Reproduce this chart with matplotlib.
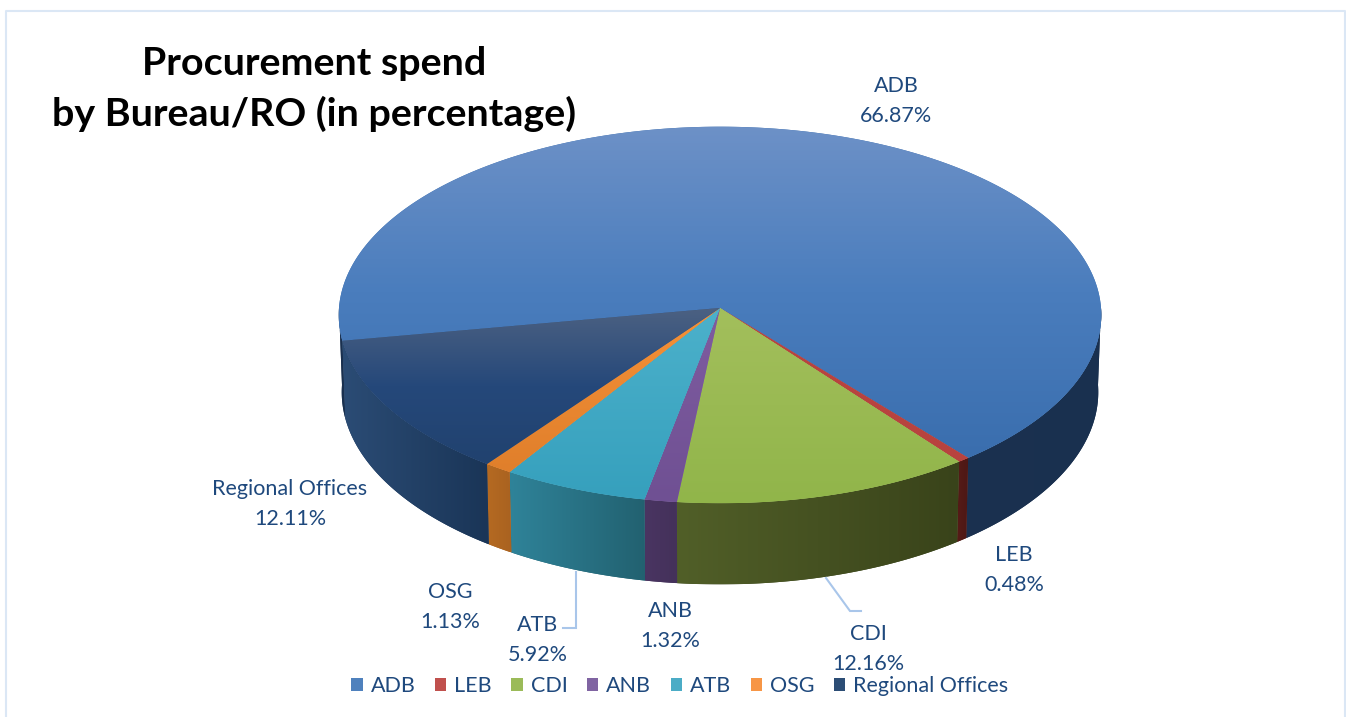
"""3D style pie chart of procurement spend by bureau."""

import matplotlib
matplotlib.use("Agg")
import matplotlib.pyplot as plt
import numpy as np
from matplotlib.colors import LinearSegmentedColormap
from matplotlib.patches import Patch, Polygon

categories = ["ADB", "LEB", "CDI", "ANB", "ATB", "OSG", "Regional Offices"]
shares = [66.87, 0.48, 12.16, 1.32, 5.92, 1.13, 12.11]
legend_colors = ["#4f81bd", "#c0504d", "#9bbb59", "#8064a2", "#4bacc6", "#f79646", "#2c4d75"]

# vertical gradient of each top face, then horizontal gradient of each rim
top_shades = [
    ["#6d91c7", "#4a7dbd", "#3a6eae"],
    ["#b8433f", "#b8433f"],
    ["#a3bf5c", "#91b54a"],
    ["#7f5ca0", "#6f5093"],
    ["#4cb1cb", "#36a0bd"],
    ["#f59138", "#e07f2b"],
    ["#4c6182", "#25487a", "#21426f"],
]
rim_shades = [
    ["#1b3150", "#19304f"],
    ["#561b17", "#4d1815"],
    ["#515f28", "#39431a"],
    ["#4a3562", "#44315a"],
    ["#2f8399", "#226170"],
    ["#b56a22", "#a96220"],
    ["#2b4c75", "#1a3557"],
]
label_lines = ["ADB\n66.87%", "LEB\n0.48%", "CDI\n12.16%", "ANB\n1.32%",
               "ATB\n5.92%", "OSG\n1.13%", "Regional Offices\n12.11%"]
label_pos = [(896, 101), (1014, 570), (868, 649), (670, 626), (538, 640), (450, 607), (290, 504)]

START_ANGLE = 190.0
CX, CY = 720.0, 308.0
RX, RY = 381.0, 188.0
RX_LOW, RY_LOW, DROP = 378.0, 192.0, 77.0
PERSP = 0.037
TEXT_COLOR = "#1f497d"
LEADER_COLOR = "#a9c6ea"
FONT = "Lato"
LABEL_SIZE = 15.5


def top_xy(angle):
    """Screen position on the top rim, angle in degrees, 270 facing the viewer."""
    t = np.radians(angle)
    front = -np.sin(t)
    scale = 1.0 / (1.0 - PERSP * front)
    return CX + RX * np.cos(t) * scale, CY + RY * front * scale


def low_xy(angle):
    t = np.radians(angle)
    front = -np.sin(t)
    scale = 1.0 / (1.0 - PERSP * front)
    return CX + RX_LOW * np.cos(t) * scale, CY + DROP + RY_LOW * front * scale


def shaded(ax, xy, colors, horizontal=False):
    """Fill a polygon with a linear gradient running across its bounding box."""
    xy = np.asarray(xy)
    patch = Polygon(xy, closed=True, facecolor=colors[-1], edgecolor="none")
    ax.add_patch(patch)
    cmap = LinearSegmentedColormap.from_list("shade", colors)
    ramp = np.linspace(0, 1, 256)
    ramp = ramp[None, :] if horizontal else ramp[:, None]
    box = (xy[:, 0].min(), xy[:, 0].max(), xy[:, 1].max(), xy[:, 1].min())
    im = ax.imshow(ramp, cmap=cmap, extent=box, origin="upper", aspect="auto",
                   interpolation="bilinear", zorder=patch.get_zorder())
    im.set_clip_path(patch)


def rim(ax, arc, colors):
    tx, ty = top_xy(arc)
    lx, ly = low_xy(arc)
    outline = np.column_stack((np.r_[tx, lx[::-1]], np.r_[ty, ly[::-1]]))
    shaded(ax, outline, colors, horizontal=True)


fig = plt.figure(figsize=(13.46, 7.17), dpi=100, facecolor="white")
ax = fig.add_axes([0, 0, 1, 1])

# clockwise slice limits, taken from the shares
sweep = np.cumsum([0.0] + shares) / sum(shares) * 360.0
limits = START_ANGLE - sweep

# ADB wraps round the back, so its rim shows on the far left and on the right
rim(ax, np.linspace(limits[0], 180.0, 40), rim_shades[0])
rim(ax, np.linspace(0.0, limits[1], 300), rim_shades[0])
for i in range(1, len(shares)):
    rim(ax, np.linspace(limits[i], limits[i + 1], 300), rim_shades[i])

for i in range(len(shares)):
    arc = np.linspace(limits[i], limits[i + 1], 600)
    tx, ty = top_xy(arc)
    outline = np.column_stack((np.r_[CX, tx], np.r_[CY, ty]))
    shaded(ax, outline, top_shades[i])

for text, (x, y) in zip(label_lines, label_pos):
    ax.text(x, y, text, ha="center", va="center", color=TEXT_COLOR, fontsize=LABEL_SIZE,
            family=FONT, linespacing=1.62)

# leader lines for the two labels that sit away from their slices
ax.plot([576, 576, 563], [572, 628, 628], color=LEADER_COLOR, lw=1.5, solid_joinstyle="miter")
ax.plot([826, 850, 861], [578, 611, 611], color=LEADER_COLOR, lw=1.5, solid_joinstyle="miter")

ax.text(314, 89, "Procurement spend\nby Bureau/RO (in percentage)", ha="center", va="center",
        color="black", fontsize=28.4, fontweight="bold", family=FONT, linespacing=1.5)

handles = [Patch(facecolor=c, edgecolor="none", label=n) for c, n in zip(legend_colors, categories)]
leg = ax.legend(handles=handles, loc="center", bbox_to_anchor=(680, 686),
                bbox_transform=ax.transData, ncol=7, frameon=False,
                handlelength=0.52, handleheight=0.6, handletextpad=0.38, columnspacing=0.9,
                prop={"family": FONT, "size": LABEL_SIZE})
for t in leg.get_texts():
    t.set_color(TEXT_COLOR)

# thin chart frame, open at the bottom
ax.plot([5.5, 5.5, 1345, 1345], [717, 10.5, 10.5, 717], color="#dbe7f5", lw=1.5)

ax.set_xlim(0, 1346)
ax.set_ylim(717, 0)
ax.axis("off")
fig.savefig("out.png", dpi=100, facecolor="white")
plt.close(fig)
